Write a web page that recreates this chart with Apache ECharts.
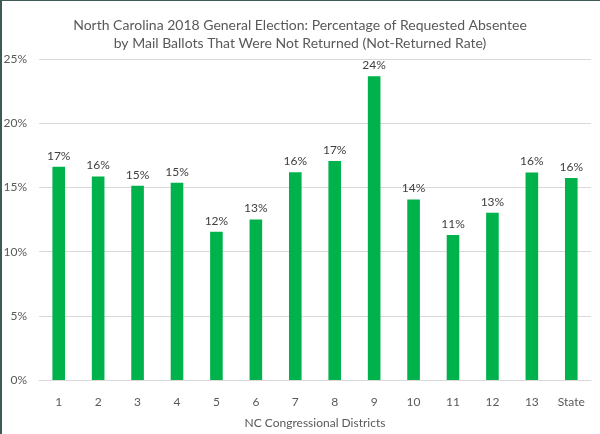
<!DOCTYPE html>
<html>
<head>
<meta charset="utf-8">
<script src="https://cdn.jsdelivr.net/npm/echarts@6/dist/echarts.min.js"></script>
<style>
html,body{margin:0;padding:0;background:#fff;}
#chart{width:600px;height:434px;}
</style>
</head>
<body>
<div id="chart"></div>
<script>
const categories = ['1','2','3','4','5','6','7','8','9','10','11','12','13','State'];
const notReturnedRate = [16.62, 15.87, 15.15, 15.38, 11.55, 12.52, 16.2, 17.08, 23.68, 14.07, 11.31, 13.04, 16.18, 15.74];
const yTicks = [0, 5, 10, 15, 20, 25];
const titleLines = ['North Carolina 2018 General Election: Percentage of Requested Absentee', 'by Mail Ballots That Were Not Returned (Not-Returned Rate)'];
const xAxisName = 'NC Congressional Districts';

const FONT = 'Lato';
const chart = echarts.init(document.getElementById('chart'));
chart.setOption({
  backgroundColor: '#fff',
  animation: false,
  title: {
    text: titleLines.join('\n'),
    left: 'center',
    top: 12,
    textStyle: { fontFamily: FONT, fontSize: 14, fontWeight: 'normal', color: '#595959', lineHeight: 17.5 }
  },
  graphic: [
    { type: 'rect', shape: { x: 0, y: 0, width: 2, height: 434 }, style: { fill: '#3e5a56' } },
    { type: 'rect', shape: { x: 0, y: 0, width: 600, height: 1 }, style: { fill: '#3e5a56' } }
  ],
  grid: { left: 39, right: 9, top: 59.3, bottom: 51.3, containLabel: false },
  xAxis: {
    type: 'category',
    data: categories,
    name: xAxisName,
    nameLocation: 'middle',
    nameGap: 37,
    nameTextStyle: { fontFamily: FONT, fontSize: 12, color: '#595959' },
    axisLine: { lineStyle: { color: '#d9d9d9' } },
    axisTick: { show: false },
    axisLabel: { fontFamily: FONT, fontSize: 12, color: '#595959', margin: 16 }
  },
  yAxis: {
    type: 'value',
    min: yTicks[0],
    max: yTicks[yTicks.length - 1],
    interval: 5,
    axisLine: { show: false },
    axisTick: { show: false },
    splitLine: { lineStyle: { color: '#d9d9d9' } },
    axisLabel: { fontFamily: FONT, fontSize: 12, color: '#595959', margin: 12, formatter: v => v + '%' }
  },
  series: [{
    type: 'bar',
    data: notReturnedRate,
    barWidth: '32%',
    itemStyle: { color: '#00B24B' },
    label: {
      show: true,
      position: 'top',
      distance: 5,
      fontFamily: FONT,
      fontSize: 12,
      color: '#404040',
      formatter: p => Math.round(p.value) + '%'
    }
  }]
});
</script>
</body>
</html>
